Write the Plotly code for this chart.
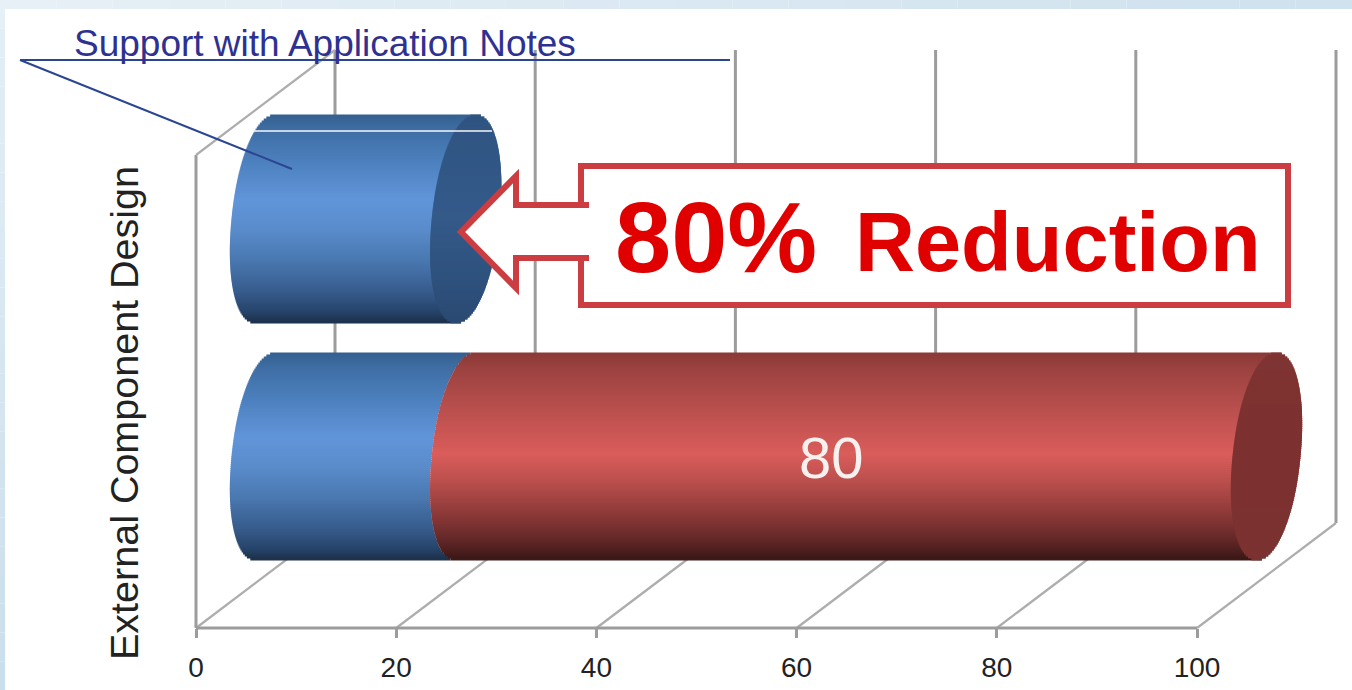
import plotly.graph_objects as go

# ---- data ----
categories = ["External Component Design"]
tick_values = [0, 20, 40, 60, 80, 100]
tick_labels = ["0", "20", "40", "60", "80", "100"]
bar_rows = ["after", "before"]
blue_values = [20, 20]
red_values = [0, 80]
series_name = "Support with Application Notes"
red_label = "80"
callout_big = "80%"
callout_word = "Reduction"

# ---- canvas geometry ----
W, H = 1352, 690
X0, PX_PER_UNIT = 196.0, 10.01
AXIS_Y = 628
row_center = {"after": 219.0, "before": 456.5}
row_half = {"after": 104.0, "before": 103.5}
DEPTH = 139 / PX_PER_UNIT
BAR_OFFSET = 69.5 / PX_PER_UNIT
CAP_A = 34 / PX_PER_UNIT
CAP_SKEW = 10 / PX_PER_UNIT
CAP_POWER = 2.1
N = 104
GRID = "#9c9c9c"

blue_stops = [(-1, "#34608f"), (-.85, "#3f6ea4"), (-.55, "#4c80bd"), (-.18, "#6195da"), (.1, "#5a8ccb"),
              (.4, "#4a78b0"), (.7, "#375c8d"), (.9, "#264369"), (1, "#1c3049")]
red_stops = [(-1, "#8a3937"), (-.85, "#9b4240"), (-.5, "#b54e4c"), (-.02, "#da5d5b"), (.25, "#b94e4c"),
             (.55, "#8e3a39"), (.8, "#652828"), (1, "#3a1716")]
blue_cap = [(-1, "#2f5481"), (0, "#345a8a"), (1, "#2a4a73")]
red_cap = [(-1, "#7f3432"), (0, "#7c3130"), (1, "#7b3231")]


def ramp(stops, t):
    for (a, ca), (b, cb) in zip(stops, stops[1:]):
        if a <= t <= b:
            f = (t - a) / (b - a)
            rgb = [round(int(ca[i:i + 2], 16) * (1 - f) + int(cb[i:i + 2], 16) * f) for i in (1, 3, 5)]
            return "rgb(%d,%d,%d)" % tuple(rgb)
    return stops[-1][1]


def slices(row, start, stop, stops, round_start, name, cap=False):
    """One horizontal bar built of thin shaded bands, giving a cylinder."""
    ys, bases, lengths, colors = [], [], [], []
    c, h = row_center[row], row_half[row]
    for i in range(N):
        t = -1 + (i + .5) * 2 / N
        s = (1 - abs(t) ** CAP_POWER) ** (1 / CAP_POWER)
        shift = -CAP_SKEW * t
        left = BAR_OFFSET + start + shift - CAP_A * s
        right = BAR_OFFSET + stop + shift + (CAP_A * s if (cap or round_start) else -CAP_A * s)
        ys.append(c + t * h)
        bases.append(left)
        lengths.append(right - left)
        colors.append(ramp(stops, t))
    return go.Bar(orientation="h", y=ys, x=lengths, base=bases, width=2 * h / N + .8, name=name,
                  marker=dict(color=colors, line=dict(width=0)), showlegend=False, hoverinfo="skip")


fig = go.Figure()
for row, b, r in zip(bar_rows, blue_values, red_values):
    fig.add_trace(slices(row, 0, b, blue_stops, r == 0, series_name))
    if r:
        fig.add_trace(slices(row, b, b + r, red_stops, True, row))
        fig.add_trace(slices(row, b + r, b + r, red_cap, False, row, cap=True))
    else:
        fig.add_trace(slices(row, b, b, blue_cap, False, row, cap=True))


def px(x):
    return x / W


def py(y):
    return 1 - y / H


shapes = []
# page background: pale blue frame around a white panel
STEPS = 24
for i in range(STEPS):
    f = i / (STEPS - 1)
    shade = "rgb(%d,%d,%d)" % (228 - 26 * f, 239 - 16 * f, 246 - 10 * f)
    shapes.append(dict(type="rect", xref="paper", yref="paper", x0=0, x1=px(5),
                       y0=py(H * (i + 1) / STEPS), y1=py(H * i / STEPS), fillcolor=shade,
                       line_width=0, layer="below"))
    shade2 = "rgb(%d,%d,%d)" % (230 - 22 * f, 240 - 14 * f, 246 - 8 * f)
    shapes.append(dict(type="rect", xref="paper", yref="paper", x0=i / STEPS, x1=(i + 1) / STEPS,
                       y0=py(9), y1=1, fillcolor=shade2, line_width=0, layer="below"))


def grid(x0, y0, x1, y1, w=3, color=GRID):
    shapes.append(dict(type="line", xref="x", yref="y", x0=x0, y0=y0, x1=x1, y1=y1,
                       line=dict(color=color, width=w), layer="below"))


BACK_TOP, BACK_BOTTOM, WALL_TOP = 50, 523, 155
for v in tick_values:
    grid(v + DEPTH, BACK_TOP, v + DEPTH, BACK_BOTTOM)
    grid(v, AXIS_Y, v + DEPTH, BACK_BOTTOM, w=2.2, color="#adadad")
grid(0, AXIS_Y, 0, WALL_TOP)
grid(0, WALL_TOP, DEPTH, BACK_TOP, w=2.2, color="#adadad")
grid(tick_values[0], AXIS_Y, tick_values[-1], AXIS_Y)

# leader lines and highlight
LEADER = "#2b4593"
for a, b, c, d in [(20, 60, 730, 60), (20, 60, 292, 169)]:
    shapes.append(dict(type="line", xref="paper", yref="paper", x0=px(a), y0=py(b), x1=px(c), y1=py(d),
                       line=dict(color=LEADER, width=2), layer="above"))
shapes.append(dict(type="line", xref="paper", yref="paper", x0=px(253), y0=py(131), x1=px(492), y1=py(131),
                   line=dict(color="#f4f7fb", width=1.6), layer="above"))

# callout box with arrow
pts = [(581, 205), (581, 166), (1288, 166), (1288, 305), (581, 305), (581, 258), (516, 258), (516, 288),
       (461, 232), (516, 176), (516, 205)]
path = "M " + " L ".join(f"{px(x):.5f} {py(y):.5f}" for x, y in pts) + " Z"
RED_LINE = "#cb3d40"
shapes.append(dict(type="path", xref="paper", yref="paper", path=path, fillcolor="white",
                   line=dict(color=RED_LINE, width=6), layer="above"))
for y in (205, 258):
    shapes.append(dict(type="line", xref="paper", yref="paper", x0=px(578), y0=py(y), x1=px(589), y1=py(y),
                       line=dict(color=RED_LINE, width=6), layer="above"))


def note(text, x, y, size, color, family="Liberation Sans", bold=False, angle=0, xanchor="left", yanchor="middle"):
    return dict(text=f"<b>{text}</b>" if bold else text, xref="paper", yref="paper", x=px(x), y=py(y),
                showarrow=False, xanchor=xanchor, yanchor=yanchor, textangle=angle,
                font=dict(size=size, color=color, family=family))


annotations = [
    note(series_name, 72, 43, 37, "#2e3192"),
    note(categories[0], 124, 413, 39.5, "#222222", angle=-90, xanchor="center"),
    note(red_label, 831, 457, 58, "#f6f1ee", xanchor="center"),
    note(callout_big, 613, 237, 101, "#e00000", bold=True),
    note(callout_word, 853, 243, 83, "#e00000", bold=True),
]

fig.update_layout(
    width=W, height=H, autosize=False,
    margin=dict(l=0, r=0, t=0, b=0),
    paper_bgcolor="white", plot_bgcolor="rgba(0,0,0,0)",
    barmode="overlay", showlegend=False,
    shapes=shapes, annotations=annotations,
    xaxis=dict(range=[-X0 / PX_PER_UNIT, (W - X0) / PX_PER_UNIT], domain=[0, 1], anchor="free",
               position=(H - AXIS_Y) / H, showgrid=False, zeroline=False, showline=False,
               tickmode="array", tickvals=tick_values, ticktext=tick_labels,
               ticks="outside", ticklen=9, tickwidth=2.5, tickcolor=GRID, ticklabelstandoff=5,
               tickfont=dict(size=28, color="#222222", family="Liberation Sans")),
    yaxis=dict(range=[H, 0], domain=[0, 1], visible=False),
)
fig.write_html("out.html", config={"displayModeBar": False},
               post_script="document.body.style.margin='0';document.body.style.overflow='hidden';")
